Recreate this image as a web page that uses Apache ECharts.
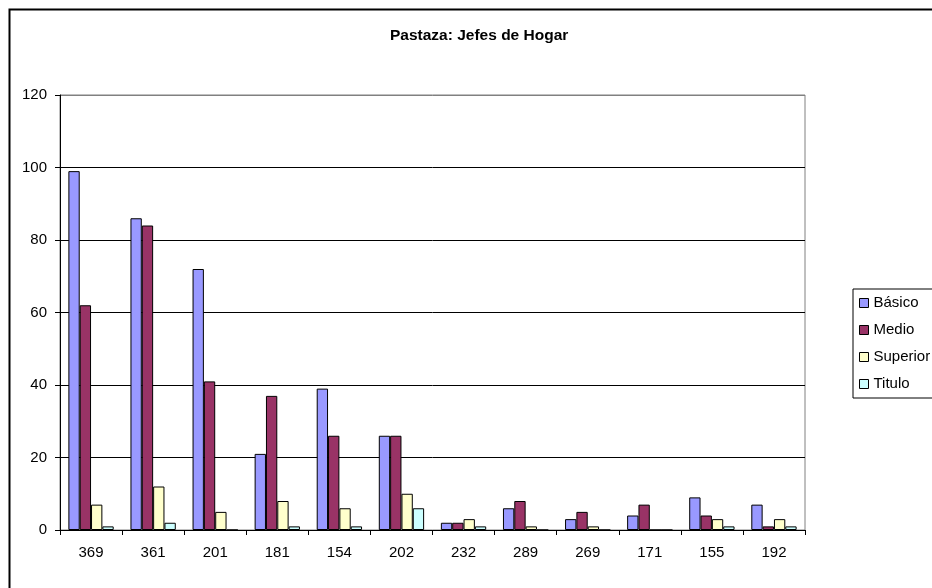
<!DOCTYPE html>
<html>
<head>
<meta charset="utf-8">
<title>Pastaza: Jefes de Hogar</title>
<script src="https://cdn.jsdelivr.net/npm/echarts@6/dist/echarts.min.js"></script>
<style>
  html, body { margin: 0; padding: 0; background: #fff; }
  #chart { width: 932px; height: 588px; }
</style>
</head>
<body>
<div id="chart"></div>
<script>
// categorias (eje x)
var categorias = ['369', '361', '201', '181', '154', '202', '232', '289', '269', '171', '155', '192'];

// valores por nivel de instruccion
var basico   = [99, 86, 72, 21, 39, 26, 2, 6, 3, 4, 9, 7];
var medio    = [62, 84, 41, 37, 26, 26, 2, 8, 5, 7, 4, 1];
var superior = [7, 12, 5, 8, 6, 10, 3, 1, 1, 0, 3, 3];
var titulo   = [1, 2, 0, 1, 1, 6, 1, 0, 0, 0, 1, 1];

var nombres = ['Básico', 'Medio', 'Superior', 'Titulo'];
var colores = ['#9999FF', '#993366', '#FFFFCC', '#CCFFFF'];

var fuente = "'Liberation Sans', Arial, sans-serif";

function serie(nombre, datos, color) {
	return {
		name: nombre,
		type: 'bar',
		data: datos,
		barGap: '0%',
		barCategoryGap: '27%',
		itemStyle: { color: color, borderColor: '#000', borderWidth: 1 },
		emphasis: { disabled: true }
	};
}

var myChart = echarts.init(document.getElementById('chart'), null, { renderer: 'canvas' });

var option = {
	animation: false,
	color: colores,
	textStyle: { fontFamily: fuente },
	title: {
		text: 'Pastaza: Jefes de Hogar',
		left: 390,
		top: 28,
		padding: 0,
		textStyle: { fontSize: 15.5, fontWeight: 'bold', color: '#000', fontFamily: fuente }
	},
	// marco exterior
	graphic: [{
		type: 'rect',
		left: 7,
		top: 7,
		shape: { width: 1000, height: 700 },
		style: { fill: 'none', stroke: '#000', lineWidth: 2 },
		silent: true
	}],
	legend: {
		data: nombres,
		orient: 'vertical',
		left: 853,
		top: 289,
		padding: [6, 30, 6, 6],
		itemGap: 11,
		itemWidth: 9,
		itemHeight: 9,
		icon: 'rect',
		borderColor: '#000',
		borderWidth: 1,
		selectedMode: false,
		itemStyle: { borderColor: '#000', borderWidth: 1 },
		textStyle: { fontSize: 15, color: '#000', fontFamily: fuente, lineHeight: 16 }
	},
	grid: {
		left: 60,
		right: 127,
		top: 95,
		bottom: 58,
		show: true,
		borderColor: '#808080',
		borderWidth: 1,
		backgroundColor: '#fff'
	},
	xAxis: {
		type: 'category',
		data: categorias,
		boundaryGap: true,
		axisLine: { lineStyle: { color: '#000', width: 1 } },
		axisTick: { show: true, alignWithLabel: false, interval: 0, length: 5, lineStyle: { color: '#000' } },
		axisLabel: { interval: 0, margin: 15, fontSize: 15, color: '#000', fontFamily: fuente }
	},
	yAxis: {
		type: 'value',
		min: 0,
		max: 120,
		interval: 20,
		axisLine: { show: true, lineStyle: { color: '#000', width: 1 } },
		axisTick: { show: true, length: 5, lineStyle: { color: '#000' } },
		axisLabel: { margin: 13, fontSize: 15, color: '#000', fontFamily: fuente },
		splitLine: {
			show: true,
			lineStyle: { color: ['#000', '#000', '#000', '#000', '#000', '#000', '#808080'], width: 1 }
		}
	},
	series: [
		serie(nombres[0], basico, colores[0]),
		serie(nombres[1], medio, colores[1]),
		serie(nombres[2], superior, colores[2]),
		serie(nombres[3], titulo, colores[3])
	]
};

myChart.setOption(option);
</script>
</body>
</html>
